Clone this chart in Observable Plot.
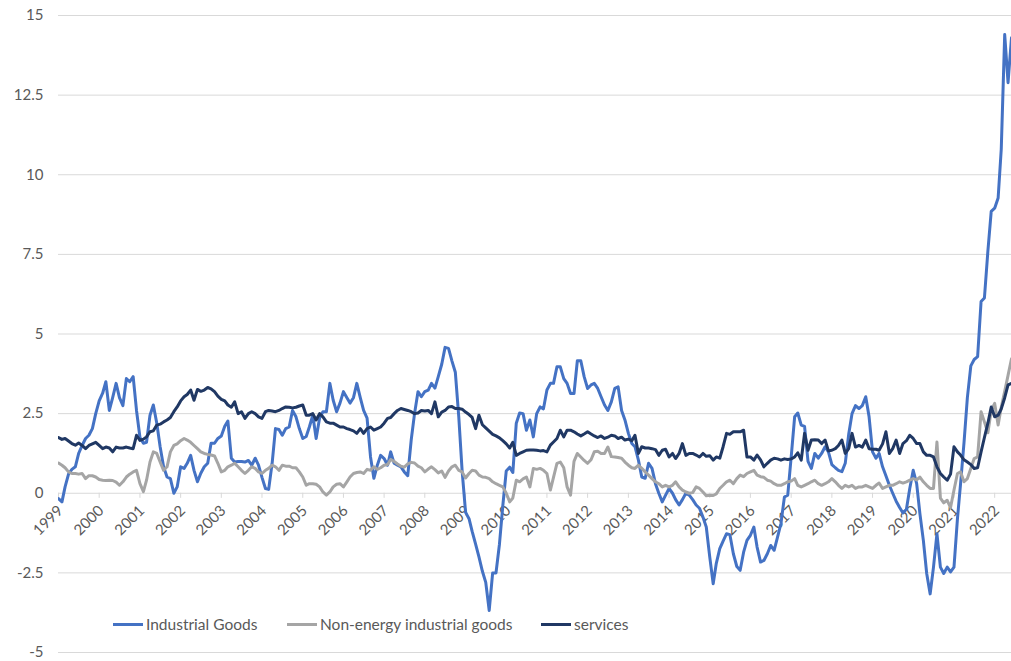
<!DOCTYPE html>
<html><head><meta charset="utf-8">
<script src="https://cdn.jsdelivr.net/npm/d3@7"></script>
<script src="https://cdn.jsdelivr.net/npm/@observablehq/plot@0.6"></script>
<style>
body{margin:0;background:#fff;font-family:Lato,"Open Sans",sans-serif;}
#wrap{position:relative;width:1011px;height:661px;overflow:hidden;background:#fff}
#legend{position:absolute;top:614px;left:0;width:1011px;height:20px;font-size:15.5px;color:#595959}
.item{position:absolute;top:0;height:20px;display:flex;align-items:center;white-space:nowrap}
.sw{display:inline-block;width:30px;height:3px;margin-right:3px}
</style></head><body><div id="wrap"><div id="legend"></div></div>
<script>
const seriesNames = ["Industrial Goods", "Non-energy industrial goods", "services"];
const seriesColors = ["#4472c4", "#a5a5a5", "#203864"];
const years = d3.range(1999, 2023);
const yTicks = [-5, -2.5, 0, 2.5, 5, 7.5, 10, 12.5, 15];
const yTickLabels = ["-5", "-2.5", "0", "2.5", "5", "7.5", "10", "12.5", "15"];

// Monthly values, Jan 1999 - Jun 2022
const industrialGoods = [
  -0.17, -0.27, 0.2, 0.6, 0.75, 0.83, 1.25, 1.5, 1.72, 1.82, 2.03, 2.5,
  2.9, 3.14, 3.5, 2.6, 3.0, 3.45, 3.0, 2.75, 3.6, 3.5, 3.66, 2.6,
  1.75, 1.57, 1.6, 2.45, 2.77, 2.2, 1.46, 0.83, 0.51, 0.46, 0.0, 0.2,
  0.83, 0.78, 0.94, 1.19, 0.72, 0.36, 0.63, 0.83, 0.94, 1.57, 1.57, 1.72,
  1.8, 2.1, 2.27, 1.1, 0.98, 1.0, 1.0, 0.98, 1.03, 0.88, 1.1, 0.88,
  0.5, 0.15, 0.12, 0.94, 2.03, 2.0, 1.82, 2.03, 2.08, 2.6, 2.4, 2.03,
  1.72, 1.78, 2.08, 2.45, 1.72, 2.36, 2.56, 2.56, 3.45, 2.92, 2.56, 2.83,
  3.19, 3.0, 2.83, 3.0, 3.45, 3.0, 2.6, 2.36, 1.14, 0.47, 0.88, 1.19,
  1.09, 0.88, 1.3, 0.94, 0.88, 0.83, 0.67, 0.55, 1.67, 2.5, 3.19, 3.03,
  3.19, 3.24, 3.45, 3.3, 3.66, 4.05, 4.58, 4.55, 4.15, 3.8, 2.4, 0.7,
  -0.6, -0.8, -1.2, -1.6, -2.0, -2.45, -2.8, -3.68, -2.5, -2.5, -1.6, -0.4,
  0.7, 0.82, 0.65, 2.2, 2.52, 2.5, 1.98, 2.3, 1.77, 2.5, 2.71, 2.65,
  3.24, 3.45, 3.45, 3.97, 3.97, 3.6, 3.45, 3.13, 3.13, 4.16, 4.16, 3.66,
  3.29, 3.4, 3.45, 3.29, 3.03, 2.77, 2.6, 2.87, 3.29, 3.34, 2.6, 2.3,
  1.88, 1.56, 1.46, 1.04, 0.51, 0.47, 0.94, 0.78, 0.3, 0.0, -0.27, -0.06,
  0.15, 0.0, -0.2, -0.37, -0.2, 0.0, -0.06, -0.2, -0.37, -0.47, -0.75, -1.06,
  -2.0, -2.84, -2.2, -1.74, -1.5, -1.27, -1.3, -1.9, -2.3, -2.42, -1.85, -1.48,
  -1.32, -1.06, -1.69, -2.16, -2.11, -1.9, -1.64, -1.79, -1.37, -0.95, -0.12, -0.06,
  1.14, 2.4, 2.52, 2.14, 2.1, 1.0, 0.78, 1.25, 1.1, 1.25, 1.46, 1.3,
  0.9, 0.8, 0.72, 0.68, 0.94, 1.85, 2.5, 2.75, 2.66, 2.75, 3.03, 2.4,
  1.3, 1.1, 1.25, 0.83, 0.55, 0.25, 0.0, -0.25, -0.45, -0.62, -0.5, 0.15,
  0.72, 0.3, -0.64, -1.48, -2.52, -3.16, -2.32, -1.27, -2.32, -2.52, -2.32, -2.47,
  -2.32, -0.8, 0.3, 1.6, 3.0, 4.0, 4.2, 4.29, 6.02, 6.13, 7.6, 8.85,
  8.95, 9.27, 10.8, 14.4, 12.89, 14.3
];
const nonEnergyIndustrialGoods = [
  0.95, 0.88, 0.8, 0.67, 0.62, 0.62, 0.6, 0.62, 0.46, 0.55, 0.55, 0.51,
  0.43, 0.41, 0.4, 0.41, 0.4, 0.35, 0.25, 0.36, 0.51, 0.6, 0.67, 0.72,
  0.3, 0.05, 0.41, 0.98, 1.3, 1.25, 0.98, 0.72, 0.83, 1.3, 1.5, 1.55,
  1.65, 1.72, 1.67, 1.6, 1.5, 1.4, 1.3, 1.25, 1.22, 1.2, 1.17, 0.94,
  0.67, 0.72, 0.83, 0.88, 0.94, 0.83, 0.72, 0.62, 0.72, 0.83, 0.78, 0.67,
  0.62, 0.72, 0.78, 0.88, 0.83, 0.72, 0.88, 0.85, 0.85, 0.8, 0.8, 0.67,
  0.51, 0.25, 0.3, 0.3, 0.28, 0.2, 0.04, -0.06, 0.04, 0.2, 0.28, 0.3,
  0.2, 0.36, 0.51, 0.62, 0.65, 0.67, 0.62, 0.75, 0.72, 0.83, 0.75, 0.8,
  0.88, 0.9, 1.06, 1.0, 0.92, 0.85, 0.82, 0.92, 0.97, 0.95, 0.85, 0.8,
  0.67, 0.76, 0.83, 0.74, 0.64, 0.7, 0.5, 0.7, 0.83, 0.88, 0.72, 0.67,
  0.48, 0.62, 0.72, 0.7, 0.57, 0.51, 0.5, 0.46, 0.36, 0.3, 0.25, 0.2,
  0.0, -0.27, -0.15, 0.41, 0.36, 0.45, 0.51, 0.2, 0.78, 0.75, 0.78, 0.72,
  0.62, 0.1, 0.5, 0.94, 0.98, 0.8, 0.2, -0.06, 1.0, 1.25, 1.14, 1.03,
  0.94, 1.05, 1.3, 1.32, 1.25, 1.25, 1.45, 1.15, 1.14, 1.12, 1.1, 0.98,
  0.88, 0.8, 0.78, 0.88, 0.78, 0.67, 0.57, 0.46, 0.36, 0.3, 0.2, 0.25,
  0.2, 0.25, 0.36, 0.2, 0.1, 0.04, 0.0, 0.02, 0.2, 0.15, 0.04, -0.08,
  -0.06, -0.07, -0.02, 0.15, 0.25, 0.36, 0.41, 0.3, 0.46, 0.57, 0.52, 0.62,
  0.67, 0.72, 0.57, 0.52, 0.5, 0.41, 0.38, 0.3, 0.25, 0.25, 0.3, 0.36,
  0.38, 0.46, 0.25, 0.2, 0.25, 0.3, 0.36, 0.41, 0.3, 0.25, 0.3, 0.36,
  0.46, 0.36, 0.25, 0.15, 0.25, 0.2, 0.25, 0.15, 0.2, 0.2, 0.25, 0.2,
  0.15, 0.25, 0.32, 0.15, 0.2, 0.25, 0.25, 0.3, 0.36, 0.32, 0.36, 0.41,
  0.46, 0.42, 0.51, 0.36, 0.25, 0.15, 0.15, 1.61, -0.15, -0.3, -0.22, -0.45,
  0.1, 0.62, 0.67, 0.36, 0.46, 0.78, 1.09, 1.14, 2.56, 2.24, 1.9, 2.6,
  2.82, 2.14, 2.7, 3.2, 3.7, 4.22
];
const services = [
  1.75, 1.69, 1.72, 1.64, 1.56, 1.51, 1.58, 1.5, 1.4, 1.5, 1.55, 1.6,
  1.5, 1.4, 1.45, 1.42, 1.3, 1.45, 1.42, 1.42, 1.45, 1.42, 1.4, 1.82,
  1.66, 1.7, 1.77, 1.93, 1.96, 2.14, 2.17, 2.24, 2.3, 2.38, 2.56, 2.71,
  2.9, 3.03, 3.1, 3.24, 2.92, 3.26, 3.2, 3.24, 3.32, 3.28, 3.19, 3.05,
  2.95, 2.9, 2.77, 2.7, 2.87, 2.5, 2.56, 2.35, 2.5, 2.56, 2.5, 2.4,
  2.35, 2.56, 2.6, 2.58, 2.56, 2.6, 2.66, 2.71, 2.7, 2.68, 2.7, 2.74,
  2.77, 2.45, 2.45, 2.5, 2.3, 2.5, 2.4, 2.24, 2.2, 2.2, 2.14, 2.08,
  2.08, 2.03, 2.0, 1.96, 1.88, 2.03, 1.88, 2.03, 2.08, 1.98, 2.03, 2.08,
  2.2, 2.35, 2.38, 2.5, 2.6, 2.66, 2.63, 2.6, 2.56, 2.5, 2.52, 2.6,
  2.58, 2.6, 2.5, 2.87, 2.4, 2.55, 2.6, 2.71, 2.72, 2.66, 2.66, 2.64,
  2.55, 2.47, 2.38, 2.03, 2.45, 2.15, 2.05, 1.95, 1.85, 1.8, 1.74, 1.65,
  1.55, 1.42, 1.6, 1.19, 1.25, 1.3, 1.35, 1.36, 1.36, 1.35, 1.33, 1.34,
  1.3, 1.51, 1.61, 1.72, 1.98, 1.77, 1.98, 1.98, 1.93, 1.86, 1.8, 1.86,
  1.93, 1.86, 1.8, 1.75, 1.8, 1.72, 1.76, 1.82, 1.8, 1.72, 1.76, 1.67,
  1.7, 1.65, 1.82, 1.25, 1.46, 1.42, 1.42, 1.4, 1.37, 1.19, 1.35, 1.38,
  1.14, 1.25, 1.09, 1.25, 1.56, 1.19, 1.25, 1.25, 1.2, 1.14, 1.25, 1.16,
  1.18, 1.04, 1.14, 1.1, 1.46, 1.88, 1.85, 1.93, 1.93, 1.93, 1.98, 1.14,
  1.14, 1.04, 1.2, 1.05, 0.83, 0.94, 1.04, 1.1, 1.08, 1.04, 1.08, 1.06,
  1.08, 1.14, 1.27, 1.04, 1.88, 1.35, 1.67, 1.68, 1.67, 1.56, 1.67, 1.33,
  1.35, 1.4, 1.5, 1.67, 1.25, 1.4, 1.88, 1.45, 1.5, 1.45, 1.67, 1.4,
  1.38, 1.38, 1.35, 1.55, 1.93, 1.25, 1.4, 1.67, 1.25, 1.56, 1.65, 1.82,
  1.72, 1.56, 1.56, 1.3, 1.19, 1.19, 1.14, 0.83, 0.62, 0.51, 0.41, 0.6,
  1.46, 1.3, 1.2, 1.05, 0.98, 0.9, 0.78, 0.8, 1.3, 1.75, 2.2, 2.71,
  2.4, 2.45, 2.65, 3.0, 3.4, 3.45
];

const monthDate = i => new Date(Date.UTC(1999, i, 1));
const toRows = (values, name) => values.map((v, i) => ({date: monthDate(i), value: v, series: name}));
const rows = [
  ...toRows(industrialGoods, seriesNames[0]),
  ...toRows(nonEnergyIndustrialGoods, seriesNames[1]),
  ...toRows(services, seriesNames[2])
];
const yearDates = years.map(y => new Date(Date.UTC(y, 0, 1)));

const chart = Plot.plot({
  width: 1011,
  height: 661,
  marginLeft: 58,
  marginRight: 0,
  marginTop: 15,
  marginBottom: 9,
  style: {fontFamily: "Lato, 'Open Sans', sans-serif", fontSize: "15px", color: "#595959", background: "#fff"},
  x: {type: "utc", domain: [new Date(Date.UTC(1999, 0, 1)), new Date(Date.UTC(2022, 5, 1))], axis: null},
  y: {domain: [-5, 15], axis: null},
  color: {domain: seriesNames, range: seriesColors},
  marks: [
    Plot.gridY(yTicks, {stroke: "#d9d9d9", strokeOpacity: 1, strokeWidth: 1}),
    Plot.axisY(yTicks, {tickSize: 0, tickPadding: 15, tickFormat: d => yTickLabels[yTicks.indexOf(d)], fill: "#595959", fontSize: 15, label: null}),
    Plot.ruleX(yearDates, {x: d => d, y1: 0, y2: -0.16, stroke: "#d9d9d9"}),
    Plot.text(yearDates, {x: d => d, y: 0, text: d => String(d.getUTCFullYear()), rotate: -45, textAnchor: "end", dx: 2, dy: 15, fill: "#595959", fontSize: 15}),
    Plot.line(rows, {x: "date", y: "value", z: "series", stroke: "series", strokeWidth: 3, clip: true})
  ]
});
const wrap = document.getElementById("wrap");
wrap.insertBefore(chart, wrap.firstChild);

const legendLefts = [113, 287, 541];
const legend = document.getElementById("legend");
seriesNames.forEach((name, i) => {
  const item = document.createElement("div");
  item.className = "item";
  item.style.left = legendLefts[i] + "px";
  const sw = document.createElement("span");
  sw.className = "sw";
  sw.style.background = seriesColors[i];
  const t = document.createElement("span");
  t.textContent = name;
  item.appendChild(sw);
  item.appendChild(t);
  legend.appendChild(item);
});
</script>
</body></html>
